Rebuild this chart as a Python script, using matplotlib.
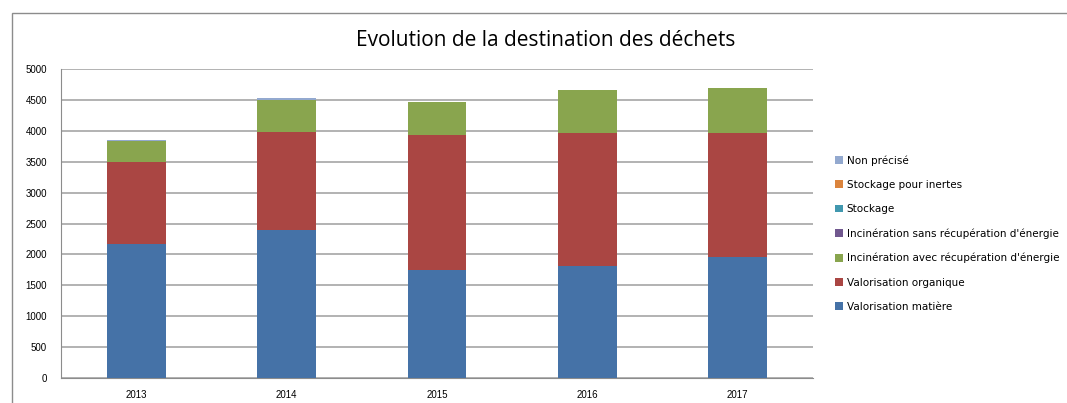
import matplotlib
matplotlib.use("Agg")
import matplotlib.pyplot as plt
from matplotlib.patches import Rectangle, Patch
import numpy as np

years = ["2013", "2014", "2015", "2016", "2017"]
series_names = [
    "Valorisation matière",
    "Valorisation organique",
    "Incinération avec récupération d'énergie",
    "Incinération sans récupération d'énergie",
    "Stockage",
    "Stockage pour inertes",
    "Non précisé",
]
valorisation_matiere = [2175, 2400, 1745, 1805, 1965]
valorisation_organique = [1314, 1583, 2183, 2160, 2000]
incineration_avec = [340, 512, 534, 700, 728]
incineration_sans = [0, 0, 0, 0, 0]
stockage = [0, 0, 0, 0, 0]
stockage_inertes = [0, 0, 0, 0, 0]
non_precise = [25, 43, 0, 0, 0]
yticks = list(range(0, 5001, 500))

values = [valorisation_matiere, valorisation_organique, incineration_avec,
          incineration_sans, stockage, stockage_inertes, non_precise]
colors = ["#4572A7", "#AA4643", "#89A54E", "#71588F", "#4198AF", "#DB843D", "#93A9CF"]

plt.rcParams['font.family'] = ['Liberation Sans', 'DejaVu Sans']

fig = plt.figure(figsize=(10.67, 4.03), dpi=100)
# outer chart frame
fig.patches.append(Rectangle((12/1067, -0.05), 1.1, 1 - 13/403 + 0.05,
                             transform=fig.transFigure, fill=False,
                             edgecolor="#8c8c8c", linewidth=1.0))

ax = fig.add_axes([61/1067, 1 - 378/403, (813 - 61)/1067, (378 - 69)/403])
x = np.arange(len(years))
bottom = np.zeros(len(years))
for name, vals, c in zip(series_names, values, colors):
    v = np.array(vals, dtype=float)
    ax.bar(x, v, bottom=bottom, width=0.39, color=c, edgecolor="none", label=name, zorder=3)
    bottom += v

ax.set_xlim(-0.5, len(years) - 0.5)
ax.set_ylim(0, 5000)
ax.set_yticks(yticks)
ax.set_yticklabels([str(t) for t in yticks])
ax.set_xticks(x)
ax.set_xticklabels(years)
ax.tick_params(axis='both', length=0, labelsize=7)
ax.tick_params(axis='y', pad=10)
ax.tick_params(axis='x', pad=9)
ax.grid(axis='y', color="#a6a6a6", linewidth=1.2, zorder=0)
for s in ["top", "right"]:
    ax.spines[s].set_visible(False)
ax.spines["left"].set_color("#8c8c8c")
ax.spines["bottom"].set_color("#8c8c8c")

fig.text(546/1067, 1 - 40/403, "Evolution de la destination des déchets",
         ha="center", va="center", fontsize=15, family=['Open Sans', 'DejaVu Sans'])

handles = [Patch(facecolor=c, edgecolor="none") for c in colors][::-1]
labels = series_names[::-1]
fig.legend(handles, labels, loc="upper left", bbox_to_anchor=(831/1067, 1 - 151/403),
           frameon=False, prop={'family': ['DejaVu Sans'], 'size': 7.5},
           handlelength=0.75, handleheight=0.75,
           handletextpad=0.35, labelspacing=1.36, borderaxespad=0)

fig.savefig("out.png", dpi=100)
